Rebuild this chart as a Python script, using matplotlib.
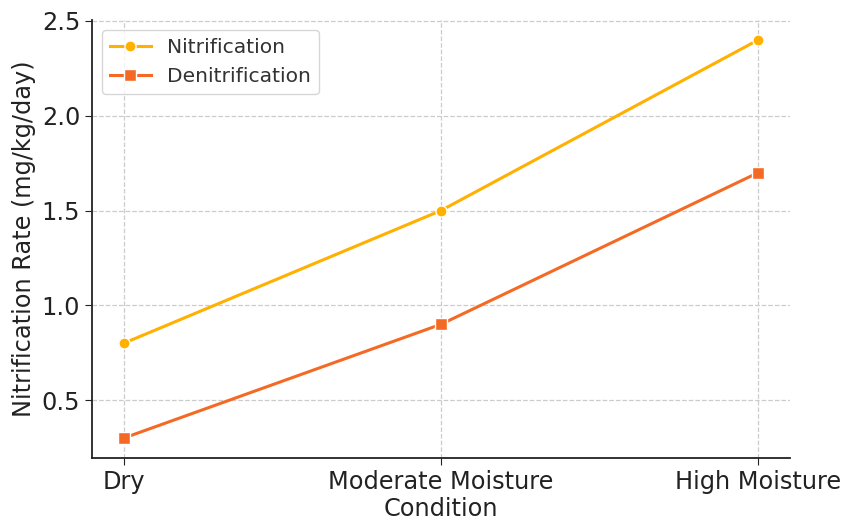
import matplotlib
matplotlib.use("Agg")
import matplotlib.pyplot as plt

conditions = ["Dry", "Moderate Moisture", "High Moisture"]
nitrification = [0.8, 1.5, 2.4]
denitrification = [0.3, 0.9, 1.7]

fig = plt.figure(figsize=(8.46, 5.23), dpi=100)
ax = fig.add_axes([0.1087, 0.1243, 0.8251, 0.8375])

x = range(len(conditions))
ax.plot(x, nitrification, color="#FFB000", marker="o", markersize=8,
        markeredgecolor="white", markeredgewidth=1, linewidth=2.2, label="Nitrification")
ax.plot(x, denitrification, color="#F46A25", marker="s", markersize=8,
        markeredgecolor="white", markeredgewidth=1, linewidth=2.2, label="Denitrification")

ax.set_xticks(list(x))
ax.set_xticklabels(conditions)
ax.set_yticks([0.5, 1.0, 1.5, 2.0, 2.5])
ax.tick_params(labelsize=17.3, colors="#222222", length=5)
ax.set_xlabel("Condition", fontsize=17.3, color="#222222", labelpad=2)
ax.set_ylabel("Nitrification Rate (mg/kg/day)", fontsize=17.3, color="#222222")

ax.grid(True, linestyle="--", color="#cccccc", linewidth=0.9)
ax.set_axisbelow(True)
for s in ["top", "right"]:
    ax.spines[s].set_visible(False)
for s in ["left", "bottom"]:
    ax.spines[s].set_linewidth(1.3)
    ax.spines[s].set_color("#222222")

leg = ax.legend(loc="upper left", fontsize=14.6, frameon=True)
leg.get_frame().set_edgecolor("#cccccc")
for t in leg.get_texts():
    t.set_color("#333333")

fig.savefig("out.png", dpi=100)
